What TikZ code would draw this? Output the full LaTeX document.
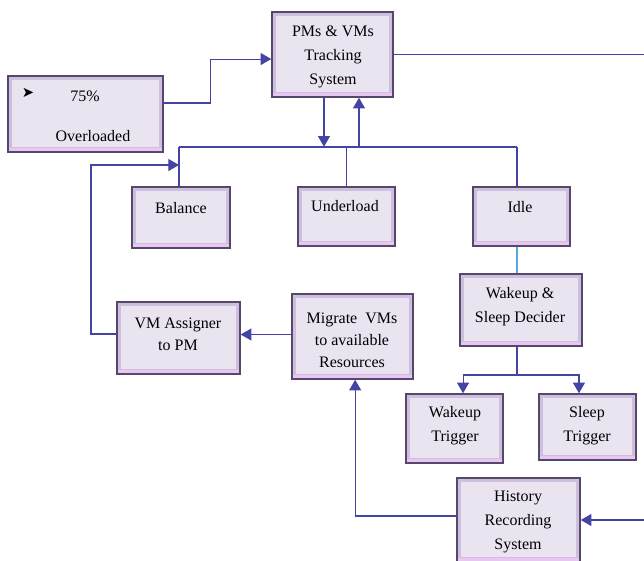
\documentclass[tikz,border=0pt]{standalone}
\usepackage{fontspec}
\setmainfont{Liberation Serif}
\newfontfamily\tnr{Liberation Serif}
\newfontfamily\symfont{DejaVu Sans}
\usetikzlibrary{arrows.meta}
\definecolor{boxfill}{HTML}{EAE4F1}
\definecolor{boxedge}{HTML}{55486A}
\definecolor{bevel}{HTML}{CDBFDD}
\definecolor{bevelpink}{HTML}{EAC6F2}
\definecolor{linec}{HTML}{4444A4}
\definecolor{lightb}{HTML}{5AA8E0}
\tikzset{
  bx/.style={draw=boxedge, line width=1.1pt, fill=boxfill, inner sep=0pt,
    path picture={
      \fill[bevel] (path picture bounding box.south west) rectangle (path picture bounding box.north east);
      \fill[boxfill] ([shift={(3pt,-3pt)}]path picture bounding box.north west) rectangle ([shift={(-3pt,4pt)}]path picture bounding box.south east);
      \fill[bevelpink] (path picture bounding box.south west) rectangle ([yshift=3pt]path picture bounding box.south east);
    }},
  txt/.style={align=center, inner sep=0pt, font=\tnr\fontsize{12}{18}\selectfont},
  txtb/.style={align=center, inner sep=0pt, font=\tnr\fontsize{12}{16.5}\selectfont},
  ln/.style={draw=linec, line width=0.8pt},
  arr/.style={ln, -{Triangle[length=8pt,width=9pt]}},
}
\newcommand\mybox[5]{\node[bx, minimum width=#4*0.75pt, minimum height=#5*0.75pt] (#1) at (#2,#3) {};}
\begin{document}
\begin{tikzpicture}[x=0.75pt,y=-0.75pt]
\useasboundingbox (0,0) rectangle (644,561);
% boxes
\mybox{over}{85.5}{114}{155}{76}
\mybox{pms}{332.5}{54.5}{121}{85}
\mybox{bal}{181}{217.5}{98}{61}
\mybox{und}{346.5}{216.5}{97}{59}
\mybox{idle}{521.5}{216.5}{97}{59}
\mybox{dec}{521}{310}{122}{72}
\mybox{vma}{178.5}{338}{123}{72}
\mybox{mig}{352.5}{336.5}{121}{85}
\mybox{wt}{454.5}{428.5}{97}{69}
\mybox{st}{587.5}{427}{97}{66}
\mybox{hist}{518.5}{520}{123}{84}
% texts
\node[inner sep=0pt] (t0) at (28,93) {\symfont\fontsize{11}{11}\selectfont ➤};
\node[txt] (t1) at (85,96) {75\%};
\node[txt] (t2) at (93,136) {Overloaded};
\node[txt] (t3) at (333,57) {PMs \& VMs\\Tracking\\System};
\node[txt] (t4) at (181,208) {Balance};
\node[txt] (t5) at (345,206) {Underload};
\node[txt] (t6) at (520,207) {Idle};
\node[txt] (t7) at (520,307) {Wakeup \&\\Sleep Decider};
\node[txtb] (t8) at (178,334) {VM Assigner\\to PM};
\node[txtb] (t9) at (352,340) {Migrate~ VMs\\to available\\Resources};
\node[txt] (t10) at (455,426) {Wakeup\\Trigger};
\node[txt] (t11) at (587,426) {Sleep\\Trigger};
\node[txt] (t12) at (518,522) {History\\Recording\\System};
% coordinates
\coordinate (re1) at (644,54.5);
\coordinate (re2) at (644,520);
\coordinate (bus1) at (179,147);
\coordinate (bus2) at (517,147);
\coordinate (upx) at (359,147);
\coordinate (fb) at (91,165);
\coordinate (split) at (517,375);
% connectors
\draw[arr] ([yshift=8.25pt]over.east) -- ++(47,0) |- ([yshift=-3.4pt]pms.west);
\draw[ln] (pms.east) -- (re1);
\draw[arr] ([xshift=-6.4pt]pms.south) -- ++(0,49);
\draw[arr] (upx) -- (upx |- pms.south);
\draw[ln] (bus1) -- (bus2);
\draw[ln] (bus1) -- (bus1 |- bal.north);
\draw[ln] (bus1 -| und.north) -- (und.north);
\draw[ln] (bus2) -- (bus2 |- idle.north);
\draw[arr] ([yshift=3pt]vma.west) -| (fb) -- (fb -| bus1);
\draw[draw=lightb, line width=0.8pt] (bus2 |- idle.south) -- (bus2 |- dec.north);
\draw[ln] (split |- dec.south) -- (split);
\draw[arr] (split) -| ([xshift=6.4pt]wt.north);
\draw[arr] (split) -| ([xshift=-6.4pt]st.north);
\draw[arr] ([yshift=1.5pt]mig.west) -- ([yshift=1.5pt]mig.west -| vma.east);
\draw[arr] ([yshift=3pt]hist.west) -| ([xshift=2pt]mig.south);
\draw[arr] (re2) -- (hist.east);
\end{tikzpicture}
\end{document}
